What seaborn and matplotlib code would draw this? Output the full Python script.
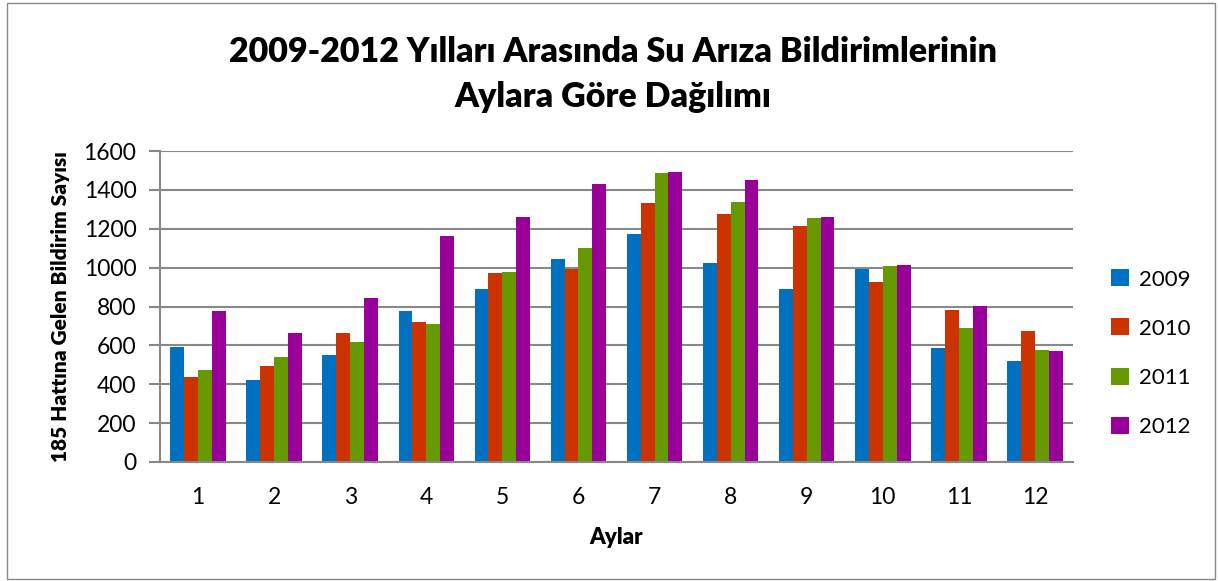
import matplotlib
matplotlib.use("Agg")
import matplotlib.pyplot as plt
import seaborn as sns
import pandas as pd
from matplotlib.patches import Rectangle

months = [str(i) for i in range(1, 13)]
years = ["2009", "2010", "2011", "2012"]
v2009 = [594, 421, 548, 777, 890, 1046, 1175, 1022, 888, 993, 589, 519]
v2010 = [435, 493, 663, 720, 974, 991, 1330, 1278, 1215, 928, 782, 674]
v2011 = [471, 540, 617, 710, 979, 1103, 1488, 1340, 1253, 1010, 691, 577]
v2012 = [778, 663, 842, 1165, 1258, 1431, 1491, 1450, 1261, 1014, 804, 570]
colors = ["#0070C0", "#CC3300", "#669900", "#990099"]

rows = []
for y, vals in zip(years, [v2009, v2010, v2011, v2012]):
    for m, v in zip(months, vals):
        rows.append({"Ay": m, "Yıl": y, "Sayı": v})
df = pd.DataFrame(rows)

sns.set_theme(style="white")
plt.rcParams['font.family'] = ['Lato', 'DejaVu Sans']
plt.rcParams['text.color'] = 'black'
plt.rcParams['axes.labelcolor'] = 'black'
plt.rcParams['xtick.color'] = 'black'
plt.rcParams['ytick.color'] = 'black'

fig = plt.figure(figsize=(12.18, 5.81), dpi=100)
ax = fig.add_axes([160/1218, 1-462/581, (1073-160)/1218, (462-151)/581])

sns.barplot(data=df, x="Ay", y="Sayı", hue="Yıl", palette=colors, ax=ax,
            width=0.73, saturation=1, edgecolor="none", legend=True)

ax.set_ylim(0, 1600)
ax.set_yticks(range(0, 1601, 200))
ax.set_xlim(-0.5, 11.5)
ax.yaxis.grid(True, color="#888888", linewidth=1.5)
ax.set_axisbelow(True)
for s in ["top", "right"]:
    ax.spines[s].set_visible(False)
ax.spines["left"].set_color("#888888")
ax.spines["left"].set_linewidth(1.5)
ax.spines["bottom"].set_color("#888888")
ax.spines["bottom"].set_linewidth(1.5)
ax.tick_params(axis="y", which="major", left=True, length=8, width=1.5, color="#888888",
               labelsize=16.5, pad=9, labelcolor="black")
ax.tick_params(axis="x", bottom=False, labelsize=16.5, pad=12, labelcolor="black")
ax.set_xlabel("Aylar", fontsize=16, fontweight="heavy", labelpad=14)
ax.set_ylabel("185 Hattına Gelen Bildirim Sayısı", fontsize=15, fontweight="heavy", labelpad=10)

handles, labels = ax.get_legend_handles_labels()
ax.legend(handles, labels, loc="center left", bbox_to_anchor=(1.02, 0.35), frameon=False,
          fontsize=16, handlelength=0.8, handleheight=0.8, labelspacing=1.3, handletextpad=0.45)

fig.text(0.503, 0.872, "2009-2012 Yılları Arasında Su Arıza Bildirimlerinin\nAylara Göre Dağılımı",
         ha="center", va="center", fontsize=24.5, fontweight="heavy", linespacing=1.52, color="black")

fig.patches.append(Rectangle((7/1218, 2/581), 1208/1218, 576/581, transform=fig.transFigure,
                             fill=False, edgecolor="#888888", linewidth=1))

fig.savefig("out.png", dpi=100)
